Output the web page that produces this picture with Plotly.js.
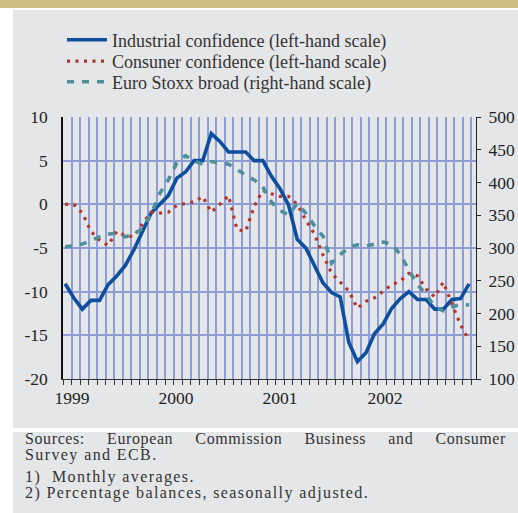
<!DOCTYPE html>
<html>
<head>
<meta charset="utf-8">
<script src="https://cdn.plot.ly/plotly-3.0.1.min.js"></script>
<style>
  html, body { margin:0; padding:0; background:#ffffff; }
  #wrap { position:relative; width:518px; height:513px; overflow:hidden; background:#ffffff; font-family:"Liberation Serif", serif; }
  #gold { position:absolute; left:0; top:0; width:518px; height:8px; background:#cbbd83; }
  #panel { position:absolute; left:13px; top:10px; width:505px; height:418px; background:#e5e6e8; }
  #foot { position:absolute; left:13px; top:432px; width:505px; height:81px; background:#e5e6e8; }
  #chart { position:absolute; left:0; top:0; width:518px; height:513px; }
  .fn { position:absolute; left:25px; font-size:16px; letter-spacing:1.4px; color:#333; white-space:nowrap; line-height:15px; }
  #fn1 { width:481px; text-align:justify; text-align-last:justify; letter-spacing:0.6px; }
</style>
</head>
<body>
<div id="wrap">
  <div id="gold"></div>
  <div id="panel"></div>
  <div id="foot"></div>
  <div id="chart"></div>
  <div class="fn" id="fn1" style="top:431px;">Sources: European Commission Business and Consumer</div>
  <div class="fn" style="top:447px;">Survey and ECB.</div>
  <div class="fn" style="top:469px;">1)&nbsp; Monthly averages.</div>
  <div class="fn" style="top:485px;">2) Percentage balances, seasonally adjusted.</div>
</div>
<script>
// Months Jan 1999 - Dec 2002
const months = [
  '1999-01','1999-02','1999-03','1999-04','1999-05','1999-06','1999-07','1999-08','1999-09','1999-10','1999-11','1999-12',
  '2000-01','2000-02','2000-03','2000-04','2000-05','2000-06','2000-07','2000-08','2000-09','2000-10','2000-11','2000-12',
  '2001-01','2001-02','2001-03','2001-04','2001-05','2001-06','2001-07','2001-08','2001-09','2001-10','2001-11','2001-12',
  '2002-01','2002-02','2002-03','2002-04','2002-05','2002-06','2002-07','2002-08','2002-09','2002-10','2002-11','2002-12'
];
const yearLabels = ['1999','2000','2001','2002'];

// Industrial confidence (left-hand scale)
const industrial = [
  -9.1,-10.7,-12.0,-11.0,-11.0,-9.2,-8.2,-7.0,-5.2,-3.0,-1.0,0.0,
  1.0,3.0,3.7,5.0,5.0,8.1,7.2,6.0,6.0,6.0,5.0,5.0,
  3.2,1.8,-0.1,-4.0,-5.0,-7.0,-9.0,-10.1,-10.6,-15.8,-18.0,-17.0,
  -14.8,-13.7,-11.9,-10.8,-10.0,-10.9,-10.9,-12.0,-12.0,-10.9,-10.8,-9.1
];
// Consumer confidence (left-hand scale)
const consumer = [
  0.0,0.0,-1.0,-3.1,-4.1,-4.7,-3.1,-3.6,-3.7,-2.2,-0.9,-1.0,
  -0.9,-0.1,0.1,0.3,0.9,-0.9,0.0,1.0,-2.9,-3.1,-0.2,1.6,
  1.2,0.9,0.9,0.0,-1.8,-3.4,-5.8,-7.9,-8.9,-9.9,-11.9,-11.1,
  -10.7,-10.0,-9.2,-8.8,-7.9,-8.2,-9.7,-10.6,-8.9,-11.4,-13.8,-15.6
];
// Euro Stoxx broad (right-hand scale)
const stoxx = [
  302,303,306,312,317,321,323,317,321,330,352,383,
  404,430,441,433,428,432,430,428,420,411,404,393,
  370,357,351,368,353,334,318,277,290,301,305,303,
  306,309,306,290,266,244,229,210,204,210,214,213
];

const xIdx = months.map((m, i) => i);
const FONT = 'Liberation Serif';

const traces = [
  { x: xIdx, y: industrial, type:'scatter', mode:'lines', name:'Industrial confidence (left-hand scale)',
    line:{ color:'#0d4f9e', width:3.6 }, yaxis:'y', legend:'legend' },
  { x: xIdx, y: consumer, type:'scatter', mode:'lines', name:'Consuner confidence (left-hand scale)',
    line:{ color:'#b5362c', width:3.2, dash:'3px,5.5px' }, yaxis:'y', legend:'legend2' },
  { x: xIdx, y: stoxx, type:'scatter', mode:'lines', name:'Euro Stoxx broad (right-hand scale)',
    line:{ color:'#4d8f9b', width:3.6, dash:'7px,8px' }, yaxis:'y2', legend:'legend3' }
];

function legendAt(topPx) {
  return {
    xref:'container', yref:'container', x:62/518, y:1-topPx/513, xanchor:'left', yanchor:'top',
    bgcolor:'rgba(0,0,0,0)', font:{ family:FONT, size:18, color:'#333' }, itemwidth:40
  };
}

const layout = {
  width:518, height:513,
  margin:{ l:63, r:42, t:117, b:134, autoexpand:false },
  paper_bgcolor:'rgba(0,0,0,0)',
  plot_bgcolor:'rgba(0,0,0,0)',
  font:{ family:FONT, size:17, color:'#222' },
  showlegend:true,
  legend: legendAt(21.5),
  legend2: legendAt(43),
  legend3: legendAt(63.5),
  xaxis:{
    range:[-0.25, 47.8], domain:[0,1],
    tickmode:'array', tickvals:[0.8, 12.9, 25.0, 37.2], ticktext:yearLabels,
    tickangle:0,
    ticks:'', showgrid:false, zeroline:false,
    showline:true, linecolor:'#333', linewidth:1,
    ticklabelstandoff:3,
    tickfont:{ family:FONT, size:17.5, color:'#222' },
    minor:{ tickmode:'linear', tick0:-0.25, dtick:0.99, showgrid:true, gridcolor:'#8e9dd3', gridwidth:1.5,
            ticks:'outside', ticklen:5, tickwidth:1, tickcolor:'#333' },
    fixedrange:true
  },
  yaxis:{
    range:[-20, 10], tickmode:'array', tickvals:[-20,-15,-10,-5,0,5,10],
    ticktext:['-20','-15','-10','-5','0','5','10'],
    showgrid:true, gridcolor:'#8e9dd3', gridwidth:2, zeroline:false,
    showline:true, linecolor:'#111', linewidth:1.5, ticks:'',
    ticklabelstandoff:10,
    tickfont:{ family:FONT, size:17.5, color:'#222' }
  },
  yaxis2:{
    range:[100, 500], tickmode:'array', tickvals:[100,150,200,250,300,350,400,450,500],
    overlaying:'y', side:'right', showgrid:false, zeroline:false,
    showline:true, linecolor:'#222', linewidth:1, ticks:'outside', ticklen:4, tickcolor:'#222',
    ticklabelstandoff:4,
    tickfont:{ family:FONT, size:17.5, color:'#222' }
  }
};

Plotly.newPlot('chart', traces, layout, { displayModeBar:false });
</script>
</body>
</html>
